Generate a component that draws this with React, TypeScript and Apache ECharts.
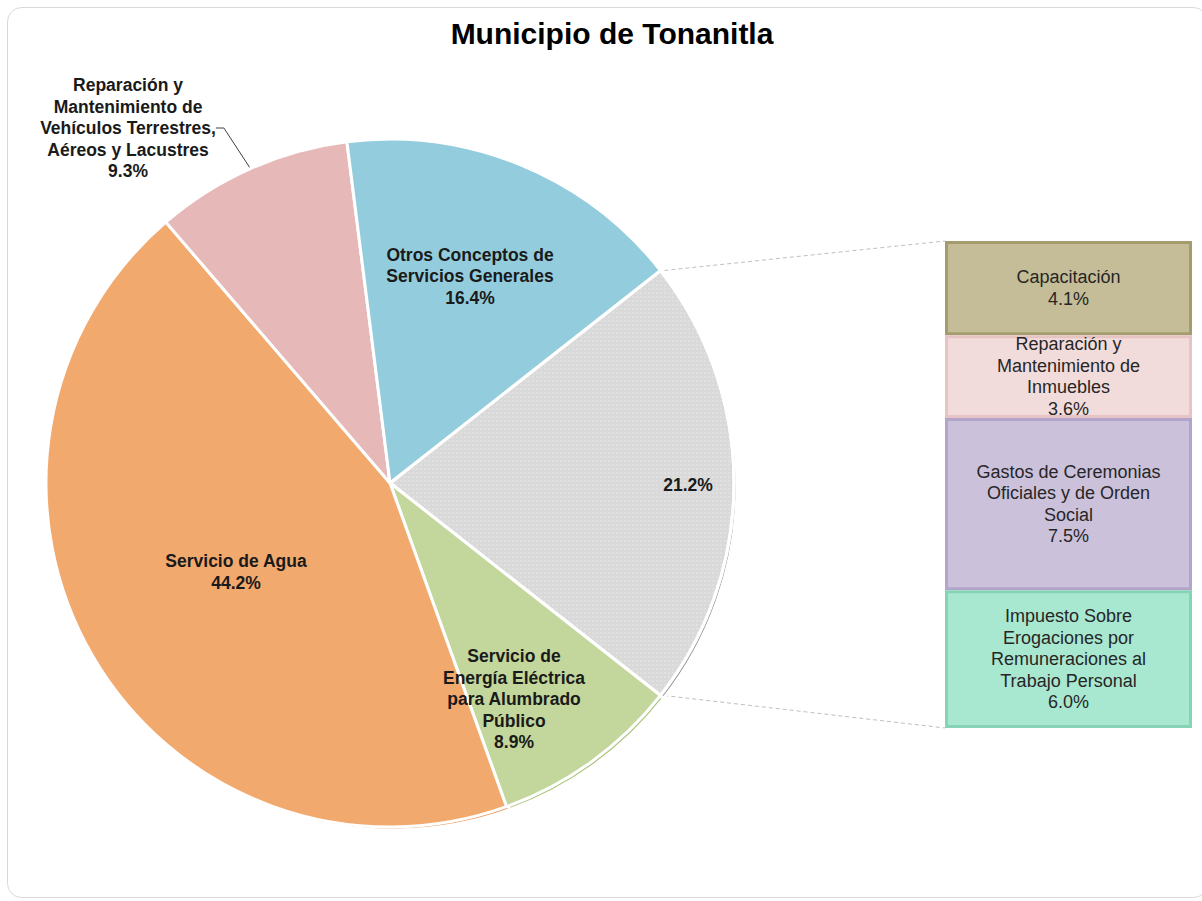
import React, { useEffect, useRef } from "react";
import * as echarts from "echarts";

const TITLE = "Municipio de Tonanitla";

const PIE_NAMES = [
  "Otros",
  "Servicio de\nEnergía Eléctrica\npara Alumbrado\nPúblico",
  "Servicio de Agua",
  "Reparación y\nMantenimiento de\nVehículos Terrestres,\nAéreos y Lacustres",
  "Otros Conceptos de\nServicios Generales",
];
const PIE_VALUES = [21.2, 8.9, 44.2, 9.3, 16.4];
const PIE_COLORS = ["#D9D9D9", "#C3D69B", "#F2A96E", "#E6B9B8", "#93CDDD"];
const PIE_EDGE = ["#9C9C9C", "#A9C27A", "#E8955A", "#D4A3A2", "#7AB8C9"];

const BAR_NAMES = [
  "Capacitación",
  "Reparación y\nMantenimiento de\nInmuebles",
  "Gastos de Ceremonias\nOficiales y de Orden\nSocial",
  "Impuesto Sobre\nErogaciones por\nRemuneraciones al\nTrabajo Personal",
];
const BAR_VALUES = [4.1, 3.6, 7.5, 6.0];
const BAR_COLORS = ["#C4BD97", "#F2DCDB", "#CCC1DA", "#A9E8D0"];
const BAR_EDGE = ["#A59C6E", "#E6C4C3", "#B3A5C9", "#86D4B5"];

// layout constants
const CX = 390;
const CY = 483;
const R = 344;
const BAR_LEFT = 945;
const BAR_TOP = 241;
const BAR_W = 247;
const BAR_H = 487;
const LABEL_POS: number[][] = [
  [688, 485],
  [514, 699],
  [236, 572],
  [128, 128],
  [470, 276],
];

const FONT = "'Liberation Sans', Arial, sans-serif";

export default function App() {
  const ref = useRef<HTMLDivElement>(null);
  useEffect(() => {
    if (!ref.current) return;
    const chart = echarts.init(ref.current, null, { renderer: "svg" });
    const total = PIE_VALUES.reduce((a, b) => a + b, 0);
    const otherShare = PIE_VALUES[0] / total;
    const startAngle = (otherShare * 360) / 2;
    const rad = (startAngle * Math.PI) / 180;
    const topPt = [CX + R * Math.cos(rad), CY - R * Math.sin(rad)];
    const botPt = [CX + R * Math.cos(rad), CY + R * Math.sin(rad)];
    const barTotal = BAR_VALUES.reduce((a, b) => a + b, 0);

    const pieData = PIE_VALUES.map((v, i) => {
      const item: any = {
        name: PIE_NAMES[i],
        value: v,
        itemStyle: {
          color: PIE_COLORS[i],
        },
      };
      if (i === 0) {
        item.itemStyle.decal = {
          symbol: "rect",
          symbolSize: 1,
          color: "rgba(255,255,255,0.18)",
          dashArrayX: [2, 2],
          dashArrayY: [2, 2],
          rotation: 0,
        };
      }
      if (i === 3) {
        item.label = { position: "outside" };
        item.labelLine = {
          show: true,
          length: 6,
          length2: 8,
          lineStyle: { color: "#404040", width: 1 },
        };
      }
      return item;
    });

    const option: any = {
      animation: false,
      backgroundColor: "#ffffff",
      title: {
        text: TITLE,
        left: 607,
        top: 13,
        textAlign: "center",
        textStyle: {
          fontFamily: FONT,
          fontSize: 30,
          fontWeight: "bold",
          color: "#000000",
        },
      },
      grid: {
        left: BAR_LEFT,
        top: BAR_TOP,
        width: BAR_W,
        height: BAR_H,
      },
      xAxis: {
        type: "category",
        data: ["Otros"],
        show: false,
      },
      yAxis: {
        type: "value",
        min: 0,
        max: barTotal,
        inverse: true,
        show: false,
      },
      series: [
        {
          type: "pie",
          silent: true,
          center: [CX + 3, CY + 3],
          radius: R,
          startAngle,
          clockwise: true,
          label: { show: false },
          labelLine: { show: false },
          itemStyle: { borderColor: "#ffffff", borderWidth: 3 },
          data: PIE_VALUES.map((v, i) => ({
            value: v,
            name: "s" + i,
            itemStyle: { color: PIE_EDGE[i] },
          })),
          z: 1,
        },
        {
          type: "pie",
          center: [CX, CY],
          radius: R,
          startAngle,
          clockwise: true,
          z: 2,
          itemStyle: {
            borderColor: "#ffffff",
            borderWidth: 3,
          },
          label: {
            show: true,
            position: "inside",
            fontFamily: FONT,
            fontSize: 17.5,
            fontWeight: "bold",
            color: "#1a1a1a",
            lineHeight: 21.5,
            align: "center",
            formatter: (p: any) =>
              p.dataIndex === 0
                ? p.value.toFixed(1) + "%"
                : p.name + "\n" + p.value.toFixed(1) + "%",
          },
          labelLine: { show: false },
          labelLayout: (p: any) => {
            const pos = LABEL_POS[p.dataIndex];
            return {
              x: pos[0],
              y: pos[1],
              align: "center",
              verticalAlign: "middle",
            };
          },
          data: pieData,
        },
        ...BAR_VALUES.map((v, i) => ({
          type: "bar",
          name: BAR_NAMES[i],
          stack: "other",
          barWidth: "100%",
          data: [v],
          itemStyle: {
            color: BAR_COLORS[i],
            borderColor: BAR_EDGE[i],
            borderWidth: 3,
          },
          label: {
            show: true,
            position: "inside",
            fontFamily: FONT,
            fontSize: 18,
            color: "#262626",
            lineHeight: 21.5,
            align: "center",
            formatter: (p: any) => p.seriesName + "\n" + p.value.toFixed(1) + "%",
          },
          z: 3,
        })),
      ],
      graphic: [
        {
          type: "rect",
          shape: { x: 7.5, y: 7.5, width: 1200, height: 890, r: 14 },
          style: { fill: "none", stroke: "#D9D9D9", lineWidth: 1 },
          z: -1,
          silent: true,
        },
        {
          type: "line",
          shape: { x1: topPt[0] + 4, y1: topPt[1], x2: BAR_LEFT, y2: BAR_TOP },
          style: { stroke: "#BFBFBF", lineWidth: 1, lineDash: [4, 3] },
          silent: true,
        },
        {
          type: "line",
          shape: { x1: botPt[0] + 4, y1: botPt[1], x2: BAR_LEFT, y2: BAR_TOP + BAR_H },
          style: { stroke: "#BFBFBF", lineWidth: 1, lineDash: [4, 3] },
          silent: true,
        },
      ],
    };
    chart.setOption(option);
    return () => chart.dispose();
  }, []);
  return (
    <div
      ref={ref}
      style={{ position: "absolute", left: 0, top: 0, width: 1202, height: 901 }}
    />
  );
}
